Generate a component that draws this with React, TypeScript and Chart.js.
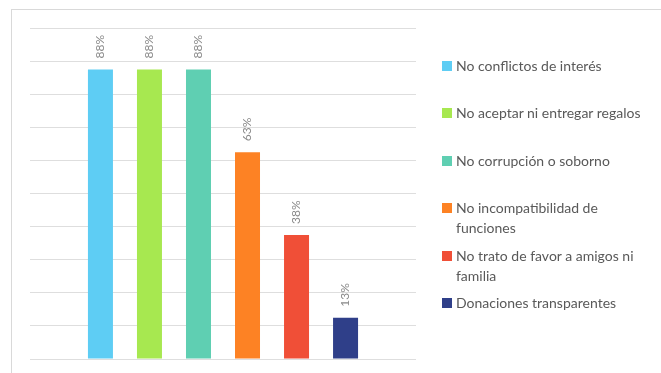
import { useEffect, useRef } from "react";
import { Chart, registerables } from "chart.js";

Chart.register(...registerables);

const categories = [
  "No conflictos de interés",
  "No aceptar ni entregar regalos",
  "No corrupción o soborno",
  "No incompatibilidad de funciones",
  "No trato de favor a amigos ni familia",
  "Donaciones transparentes",
];
const values = [87.5, 87.5, 87.5, 62.5, 37.5, 12.5];
const colors = ["#5ECDF4", "#A7E850", "#5FCFB2", "#FD8224", "#F04F37", "#2F3F89"];
const yMin = 0;
const yMax = 100;
const yStep = 10;

const W = 661;
const H = 373;

const labelPlugin = {
  id: "barLabels",
  afterDatasetsDraw(chart: any) {
    const ctx = chart.ctx;
    ctx.save();
    ctx.fillStyle = "#8a8a8a";
    ctx.font = "12px Lato";
    ctx.textAlign = "left";
    ctx.textBaseline = "middle";
    chart.data.datasets.forEach((ds: any, i: number) => {
      const meta = chart.getDatasetMeta(i);
      meta.data.forEach((el: any, j: number) => {
        const v = ds.data[j];
        ctx.save();
        ctx.translate(el.x, el.y - 11);
        ctx.rotate(-Math.PI / 2);
        ctx.fillText(Math.round(v) + "%", 0, 0);
        ctx.restore();
      });
    });
    ctx.restore();
  },
};

export default function App() {
  const ref = useRef<HTMLCanvasElement | null>(null);
  useEffect(() => {
    document.body.style.margin = "0";
    const chart = new Chart(ref.current as HTMLCanvasElement, {
      type: "bar",
      data: {
        labels: [""],
        datasets: categories.map((c, i) => ({
          label: c,
          data: [values[i]],
          backgroundColor: colors[i],
          borderWidth: 0,
          categoryPercentage: 0.762,
          barPercentage: 0.51,
        })),
      },
      options: {
        animation: false,
        responsive: false,
        maintainAspectRatio: false,
        layout: { padding: { left: 30, right: 245, top: 28, bottom: 14 } },
        plugins: { legend: { display: false }, tooltip: { enabled: false } },
        scales: {
          x: { display: false },
          y: {
            min: yMin,
            max: yMax,
            ticks: { display: false, stepSize: yStep },
            grid: { color: "#dedede", lineWidth: 1, drawTicks: false },
            border: { display: false },
          },
        },
      },
      plugins: [labelPlugin],
    });
    return () => chart.destroy();
  }, []);

  return (
    <div style={{ position: "relative", width: W, height: H, overflow: "hidden", background: "#fff" }}>
      <div
        style={{
          position: "absolute",
          left: 11,
          top: 9,
          width: W,
          height: H,
          border: "1px solid #d9d9d9",
          boxSizing: "border-box",
        }}
      />
      <canvas ref={ref} width={W} height={H} style={{ position: "absolute", left: 0, top: 0 }} />
      {categories.map((c, i) => (
        <div
          key={c}
          style={{
            position: "absolute",
            left: 442,
            top: 56 + i * 47.4,
            width: 210,
            display: "flex",
            alignItems: "flex-start",
            fontFamily: "Lato",
            fontSize: 14,
            lineHeight: "20px",
            color: "#595959",
          }}
        >
          <span
            style={{
              display: "inline-block",
              width: 10,
              height: 10,
              marginTop: 5,
              marginRight: 4,
              background: colors[i],
              flex: "none",
            }}
          />
          <span style={{ width: 196 }}>{c}</span>
        </div>
      ))}
    </div>
  );
}
